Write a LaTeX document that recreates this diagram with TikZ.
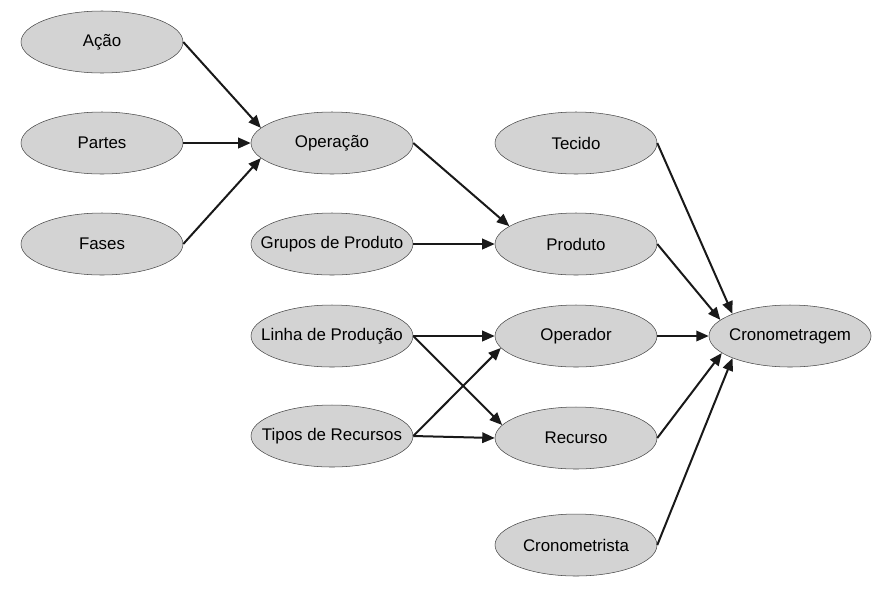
\documentclass[tikz,border=0pt]{standalone}
\usepackage{fontspec}
\setmainfont{Liberation Sans}
\usetikzlibrary{shapes.geometric,arrows.meta}
\definecolor{elfill}{RGB}{211,211,211}
\definecolor{elline}{RGB}{70,70,70}
\definecolor{arline}{RGB}{25,25,25}
\begin{document}
\begin{tikzpicture}[
	entidade/.style = {ellipse, draw = elline, line width = 0.3pt, fill = elfill,
		minimum width = 3.24cm, minimum height = 1.24cm, inner xsep = -4mm, inner ysep = 0pt,
		font = \fontsize{9.6}{11}\selectfont},
	seta/.style = {draw = arline, line width = 0.4mm, -{Triangle[length=2.5mm,width=2.1mm]}}
	]
		
		\useasboundingbox (0,0) rectangle (17.68,-11.8);
		
		\node[entidade] (acao) at (2.04,-0.84) {Ação};
		\node[entidade] (partes) at (2.04,-2.86) {Partes};
		\node[entidade] (fases) at (2.04,-4.88) {Fases};
		
		\node[entidade] (operacao) at (6.64,-2.86) {Operação};
		\node[entidade] (grupos) at (6.64,-4.88) {Grupos de Produto};
		\node[entidade] (linha) at (6.64,-6.72) {Linha de Produção};
		\node[entidade] (tipos) at (6.64,-8.72) {Tipos de Recursos};
		
		\node[entidade] (tecido) at (11.52,-2.86) {Tecido};
		\node[entidade] (produto) at (11.52,-4.88) {Produto};
		\node[entidade] (operador) at (11.52,-6.72) {Operador};
		\node[entidade] (recurso) at (11.52,-8.76) {Recurso};
		\node[entidade] (cronometrista) at (11.52,-10.9) {Cronometrista};
		
		\node[entidade] (cronometragem) at (15.8,-6.72) {Cronometragem};
		
		
		\draw[seta] (acao.east) -- (operacao.168);
		\draw[seta] (partes.east) -- (operacao.west);
		\draw[seta] (fases.east) -- (operacao.192);
		
		\draw[seta] (operacao.east) -- (produto.165);
		\draw[seta] (grupos.east) -- (produto.west);
		\draw[seta] (linha.east) -- (operador.west);
		\draw[seta] (linha.east) -- (recurso.170);
		\draw[seta] (tipos.east) -- (operador.189);
		\draw[seta] (tipos.east) -- (recurso.west);
		
		\draw[seta] (tecido.east) -- (cronometragem.159);
		\draw[seta] (produto.east) -- (cronometragem.167);
		\draw[seta] (operador.east) -- (cronometragem.west);
		\draw[seta] (recurso.east) -- (cronometragem.194);
		\draw[seta] (cronometrista.east) -- (cronometragem.201);
		
		
	\end{tikzpicture}
\end{document}
